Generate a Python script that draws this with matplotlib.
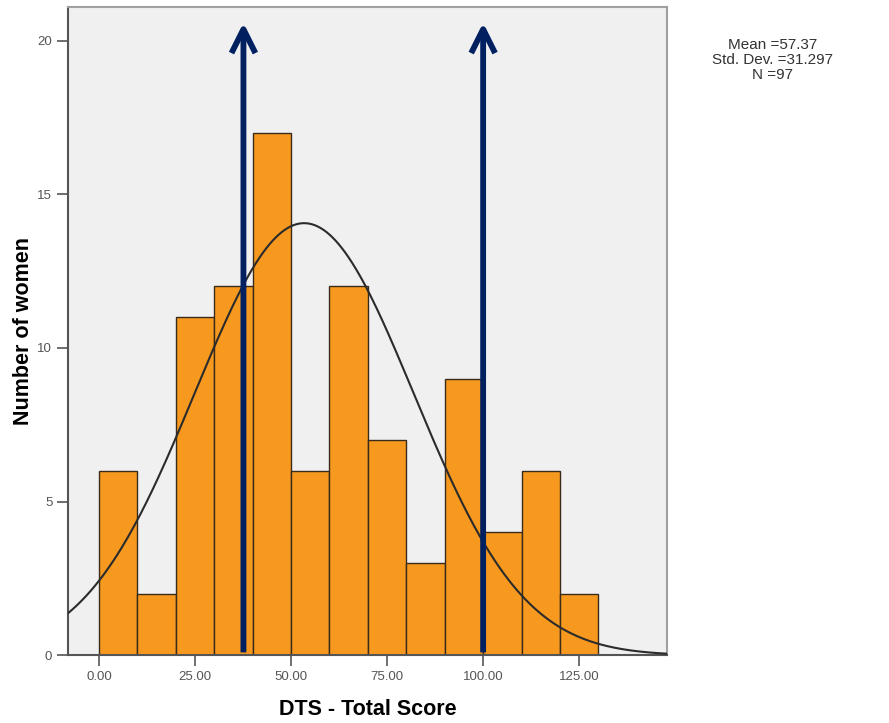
import numpy as np
import matplotlib.pyplot as plt

# histogram of DTS total score, bins of width 10
bin_edges = np.arange(0, 140, 10)
counts = [6, 2, 11, 12, 17, 6, 12, 7, 3, 9, 4, 6, 2]

# normal curve as drawn in the picture
curve_mean = 53.4
curve_sd = 28.5
curve_peak = 14.06

# arrows marking scores
arrow_x = [37.6, 100.0]
arrow_bottom = 0.1
arrow_top = 20.58

stats_lines = ["Mean =57.37", "Std. Dev. =31.297", "N =97"]
x_ticks = [0, 25, 50, 75, 100, 125]
y_ticks = [0, 5, 10, 15, 20]

plt.rcParams['font.family'] = ['Liberation Sans', 'DejaVu Sans']

fig = plt.figure(figsize=(8.89, 7.23), dpi=100)
ax = fig.add_axes([0.0768, 0.0934, 0.6732, 0.8965])
ax.set_facecolor('#f0f0f0')

ax.bar(bin_edges[:-1], counts, width=10, align='edge', color='#f7991f',
       edgecolor='#3a2a1a', linewidth=1.0, zorder=2)

xs = np.linspace(-8, 148, 400)
ys = curve_peak * np.exp(-0.5 * ((xs - curve_mean) / curve_sd) ** 2)
ax.plot(xs, ys, color='#2b2b2b', linewidth=1.5, zorder=3)

for xa in arrow_x:
    ax.annotate('', xy=(xa, arrow_top), xytext=(xa, arrow_bottom),
                arrowprops=dict(arrowstyle='->,head_length=0.86,head_width=0.43',
                                lw=4.2, color='#002060', mutation_scale=20,
                                shrinkA=0, shrinkB=0, capstyle='butt',
                                joinstyle='round'),
                zorder=4)

ax.set_xlim(-8, 147.8)
ax.set_ylim(0, 21.08)
ax.set_xticks(x_ticks)
ax.set_xticklabels([f"{t:.2f}" for t in x_ticks])
ax.set_yticks(y_ticks)
ax.tick_params(axis='both', direction='out', length=8, width=1.2,
               color='#555555', labelcolor='#555555', labelsize=9.5)

for side in ['left', 'bottom']:
    ax.spines[side].set_color('#555555')
    ax.spines[side].set_linewidth(1.5)
for side in ['top', 'right']:
    ax.spines[side].set_color('#a0a0a0')
    ax.spines[side].set_linewidth(1.5)

ax.set_xlabel('DTS - Total Score', fontsize=15.5, fontweight='bold', labelpad=11)
ax.set_ylabel('Number of women', fontsize=15.5, fontweight='bold')
ax.yaxis.set_label_coords(-0.058, 0.5)

for i, line in enumerate(stats_lines):
    fig.text(773 / 889, 1 - (45 + 15 * i) / 723, line, ha='center', va='center',
             fontsize=11, color='#333333')

fig.savefig('out.png', dpi=100)
